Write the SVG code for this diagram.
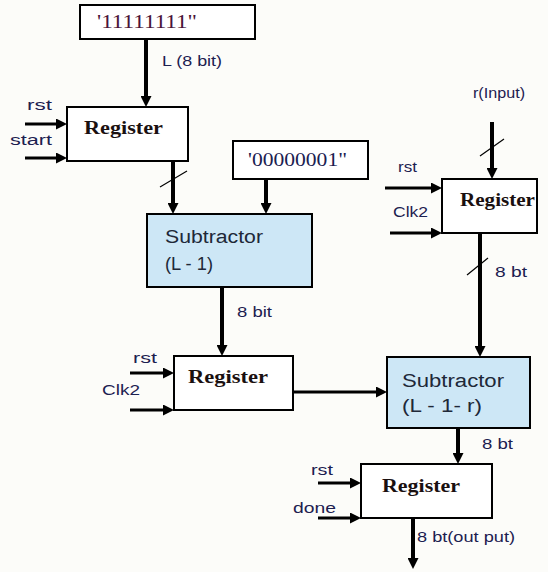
<svg xmlns="http://www.w3.org/2000/svg" width="548" height="572" viewBox="0 0 548 572">
<defs>
<marker id="ah" viewBox="0 0 10 10" refX="0" refY="5" markerWidth="11" markerHeight="11" markerUnits="userSpaceOnUse" orient="auto">
<path d="M0,0 L10,5 L0,10 z" fill="#000"/>
</marker>
<style>
.box{fill:#fff;stroke:#000;stroke-width:2}
.sub{fill:#cde7f6;stroke:#000;stroke-width:2}
.reg{font-family:"Liberation Serif",serif;font-weight:bold;font-size:19px;fill:#1a1010}
.st{font-family:"Liberation Sans",sans-serif;font-size:18px;fill:#202838}
.lbl{font-family:"Liberation Sans",sans-serif;font-size:14px;fill:#1c2050}
.val{font-family:"Liberation Serif",serif;font-size:18px}
.w{stroke:#000;stroke-width:4;fill:none}
.w3{stroke:#000;stroke-width:3;fill:none}
.sl{stroke:#000;stroke-width:1.2;fill:none}
</style>
</defs>
<rect width="548" height="572" fill="#fcfcf9"/>

<g id="const1">
<rect class="box" x="80" y="5" width="175" height="34"/>
<text class="val" x="97" y="28" textLength="100" lengthAdjust="spacingAndGlyphs" fill="#4a1438">'11111111"</text>
</g>
<g id="const2">
<rect class="box" x="233" y="141" width="135" height="38"/>
<text class="val" x="248" y="166" textLength="99" lengthAdjust="spacingAndGlyphs" fill="#1a2050">'00000001"</text>
</g>
<g id="reg1">
<rect class="box" x="67" y="107" width="121" height="54"/>
<text class="reg" x="84" y="134" textLength="79" lengthAdjust="spacingAndGlyphs">Register</text>
</g>
<g id="sub1">
<rect class="sub" x="147" y="214" width="165" height="73"/>
<text class="st" x="165" y="243" textLength="98" lengthAdjust="spacingAndGlyphs">Subtractor</text>
<text class="st" x="165" y="270" textLength="48" lengthAdjust="spacingAndGlyphs">(L - 1)</text>
</g>
<g id="reg2">
<rect class="box" x="174" y="356" width="119" height="54"/>
<text class="reg" x="188" y="383" textLength="80" lengthAdjust="spacingAndGlyphs">Register</text>
</g>
<g id="reg3">
<rect class="box" x="442" y="179" width="95" height="54"/>
<text class="reg" x="460" y="206" textLength="75" lengthAdjust="spacingAndGlyphs">Register</text>
</g>
<g id="sub2">
<rect class="sub" x="387" y="357" width="143" height="71"/>
<text class="st" x="402" y="387" textLength="102" lengthAdjust="spacingAndGlyphs">Subtractor</text>
<text class="st" x="402" y="412" textLength="80" lengthAdjust="spacingAndGlyphs">(L - 1- r)</text>
</g>
<g id="reg4">
<rect class="box" x="361" y="464" width="131" height="54"/>
<text class="reg" x="382" y="492" textLength="78" lengthAdjust="spacingAndGlyphs">Register</text>
</g>

<g id="connectors">
<line class="w" x1="146" y1="39" x2="146" y2="96" marker-end="url(#ah)"/>
<line class="w3" x1="25" y1="124" x2="56" y2="124" marker-end="url(#ah)"/>
<line class="w3" x1="25" y1="158" x2="56" y2="158" marker-end="url(#ah)"/>
<line class="w" x1="173" y1="161" x2="173" y2="203" marker-end="url(#ah)"/>
<line class="sl" x1="160" y1="187" x2="187" y2="171"/>
<line class="w" x1="266" y1="179" x2="266" y2="203" marker-end="url(#ah)"/>
<line class="w" x1="222" y1="287" x2="222" y2="345" marker-end="url(#ah)"/>
<line class="w3" x1="130" y1="373" x2="163" y2="373" marker-end="url(#ah)"/>
<line class="w3" x1="130" y1="410" x2="163" y2="410" marker-end="url(#ah)"/>
<line class="w3" x1="293" y1="392" x2="376" y2="392" marker-end="url(#ah)"/>
<line class="w" x1="492" y1="122" x2="492" y2="168" marker-end="url(#ah)"/>
<line class="sl" x1="480" y1="156" x2="504" y2="139"/>
<line class="w3" x1="385" y1="188" x2="431" y2="188" marker-end="url(#ah)"/>
<line class="w3" x1="390" y1="233" x2="431" y2="233" marker-end="url(#ah)"/>
<line class="w" x1="480" y1="233" x2="480" y2="346" marker-end="url(#ah)"/>
<line class="sl" x1="467" y1="275" x2="488" y2="258"/>
<line class="w" x1="458" y1="428" x2="458" y2="453" marker-end="url(#ah)"/>
<line class="w3" x1="318" y1="483" x2="350" y2="483" marker-end="url(#ah)"/>
<line class="w3" x1="318" y1="518" x2="350" y2="518" marker-end="url(#ah)"/>
<line class="w" x1="413" y1="518" x2="413" y2="558" marker-end="url(#ah)"/>
</g>

<g id="labels">
<text class="lbl" x="162" y="66" textLength="60" lengthAdjust="spacingAndGlyphs">L (8 bit)</text>
<text class="lbl" x="27" y="110" textLength="25" lengthAdjust="spacingAndGlyphs">rst</text>
<text class="lbl" x="10" y="145" textLength="42" lengthAdjust="spacingAndGlyphs">start</text>
<text class="lbl" x="237" y="317" textLength="35" lengthAdjust="spacingAndGlyphs">8 bit</text>
<text class="lbl" x="133" y="363" textLength="24" lengthAdjust="spacingAndGlyphs">rst</text>
<text class="lbl" x="102" y="395" textLength="38" lengthAdjust="spacingAndGlyphs">Clk2</text>
<text class="lbl" x="473" y="98" textLength="52" lengthAdjust="spacingAndGlyphs">r(Input)</text>
<text class="lbl" x="398" y="172" textLength="19" lengthAdjust="spacingAndGlyphs">rst</text>
<text class="lbl" x="393" y="217" textLength="35" lengthAdjust="spacingAndGlyphs">Clk2</text>
<text class="lbl" x="495" y="277" textLength="32" lengthAdjust="spacingAndGlyphs">8 bt</text>
<text class="lbl" x="482" y="449" textLength="31" lengthAdjust="spacingAndGlyphs">8 bt</text>
<text class="lbl" x="311" y="475" textLength="22" lengthAdjust="spacingAndGlyphs">rst</text>
<text class="lbl" x="293" y="513" textLength="43" lengthAdjust="spacingAndGlyphs">done</text>
<text class="lbl" x="417" y="542" textLength="98" lengthAdjust="spacingAndGlyphs">8 bt(out put)</text>
</g>
</svg>
